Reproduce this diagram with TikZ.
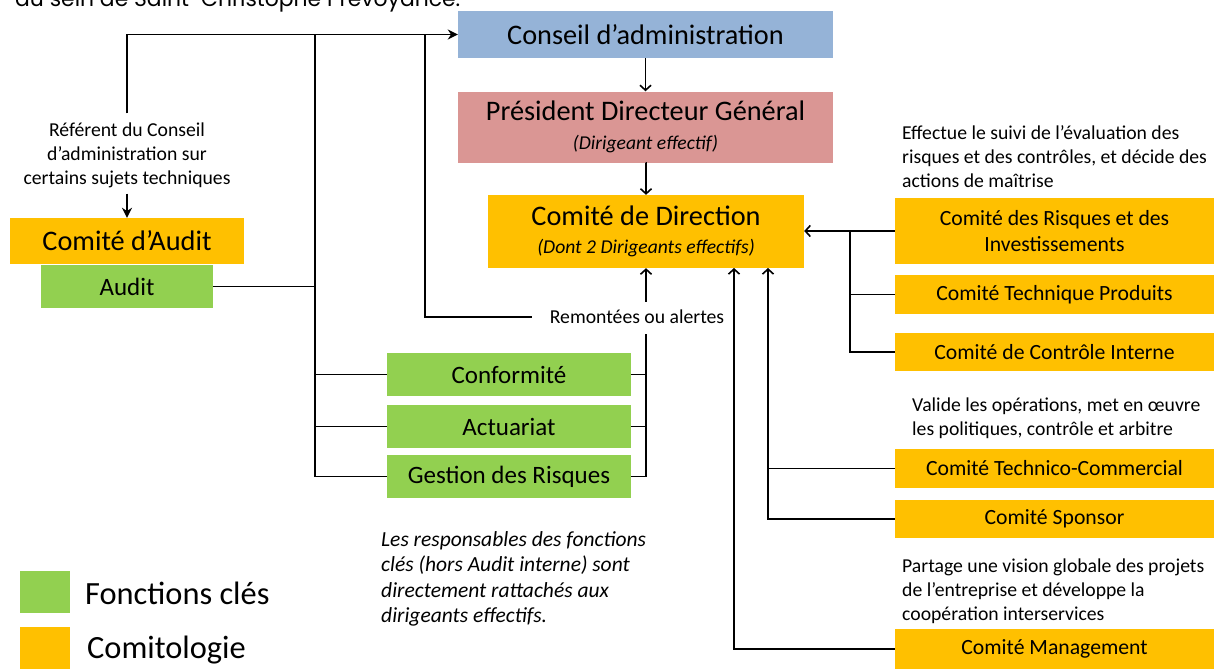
\documentclass[tikz,border=0pt]{standalone}
\usepackage{fontspec}
\setmainfont{Carlito}
\newfontfamily\gothic{Poppins}
\usetikzlibrary{arrows.meta}
\definecolor{cblue}{HTML}{95B3D7}
\definecolor{cpink}{HTML}{DA9694}
\definecolor{corange}{HTML}{FFC000}
\definecolor{cgreen}{HTML}{92D050}
\tikzset{
  box/.style={inner sep=0pt, align=center, text=black},
  orangebox/.style={box, fill=corange},
  greenbox/.style={box, fill=cgreen, font=\fontsize{25}{30}\selectfont},
  bigf/.style={font=\fontsize{28.3}{34}\selectfont},
  rightf/.style={font=\fontsize{21.7}{26}\selectfont},
  notef/.style={font=\fontsize{19.7}{24}\selectfont},
  conn/.style={line width=1.8pt, black},
  barb/.style={-{Straight Barb[length=5pt,width=11pt,line width=1.6pt]}},
  tri/.style={-{Stealth[length=10pt,width=10pt]}},
  note/.style={inner sep=0pt, align=left, anchor=west, notef},
}
\newcommand{\subit}{\fontsize{19.6}{24}\selectfont\itshape}
\begin{document}
\begin{tikzpicture}[x=1pt,y=-1pt]
\useasboundingbox (0,0) rectangle (1214,669);
\fill[white] (0,0) rectangle (1214,669);
\begin{scope}
\clip (0,0) rectangle (1214,669);
\node[inner sep=0pt, anchor=base west] (title) at (15,7) {\resizebox{445pt}{!}{\gothic au sein de Saint-Christophe Prévoyance.}};
\end{scope}

% main column
\node[box, bigf, fill=cblue, minimum width=375pt, minimum height=47pt] (cda) at (645.5,34.5) {Conseil d’administration};
\node[box, bigf, fill=cpink, minimum width=375pt, minimum height=71pt] (pdg) at (645.5,127) {Président Directeur Général\\[-5pt]{\subit (Dirigeant effectif)}};
\node[orangebox, bigf, minimum width=316pt, minimum height=73pt] (cdd) at (646,231.5) {Comité de Direction\\[-6pt]{\subit (Dont 2 Dirigeants effectifs)}};

% left
\node[orangebox, bigf, minimum width=234pt, minimum height=46pt] (caudit) at (127,241) {Comité d’Audit};
\node[greenbox, minimum width=172pt, minimum height=43pt] (audit) at (127,286.5) {Audit};
\node[inner sep=0pt, align=center, notef] (ref) at (127,155) {Référent du Conseil\\d’administration sur\\certains sujets techniques};

% key functions
\node[greenbox, minimum width=244pt, minimum height=43pt] (conf) at (509,374.5) {Conformité};
\node[greenbox, minimum width=244pt, minimum height=43pt] (act) at (509,426.5) {Actuariat};
\node[greenbox, minimum width=244pt, minimum height=43pt] (gdr) at (509,476.5) {Gestion des Risques};
\node[inner sep=0pt, notef] (rem) at (637,317) {Remontées ou alertes};

% right committees
\node[orangebox, rightf, minimum width=319pt, minimum height=66pt] (cri) at (1054.5,231) {Comité des Risques et des\\Investissements};
\node[orangebox, rightf, minimum width=319pt, minimum height=39pt] (ctp) at (1054.5,294.5) {Comité Technique Produits};
\node[orangebox, rightf, minimum width=319pt, minimum height=38pt] (cci) at (1054.5,352) {Comité de Contrôle Interne};
\node[orangebox, rightf, minimum width=319pt, minimum height=39pt] (ctc) at (1054.5,468.5) {Comité Technico-Commercial};
\node[orangebox, rightf, minimum width=319pt, minimum height=38pt] (cs) at (1054.5,519) {Comité Sponsor};
\node[orangebox, rightf, minimum width=319pt, minimum height=40pt] (cm) at (1054.5,649) {Comité Management};

% notes
\node[note] (n1) at (902,157) {Effectue le suivi de l’évaluation des\\risques et des contrôles, et décide des\\actions de maîtrise};
\node[note] (n2) at (912,418) {Valide les opérations, met en œuvre\\les politiques, contrôle et arbitre};
\node[note] (n3) at (902,591) {Partage une vision globale des projets\\de l’entreprise et développe la\\coopération interservices};
\node[note, font=\fontsize{21.5}{25.5}\selectfont\itshape] (n4) at (381,579) {Les responsables des fonctions\\clés (hors Audit interne) sont\\directement rattachés aux\\dirigeants effectifs.};

% legend
\node[greenbox, minimum width=50pt, minimum height=42pt] (lg) at (45,592) {};
\node[orangebox, minimum width=50pt, minimum height=42pt] (lo) at (45,648) {};
\node[inner sep=0pt, anchor=west, font=\fontsize{32.4}{38}\selectfont] (lgt) at (85,593) {Fonctions clés};
\node[inner sep=0pt, anchor=west, font=\fontsize{32.4}{38}\selectfont] (lot) at (87,650) {Comitologie};

% coordinates
\coordinate (v1) at (315,34.5);
\coordinate (v2) at (425,34.5);
\coordinate (v3) at (850,231);
\coordinate (c2) at (768,268);
\coordinate (c3) at (734,268);

% connectors
\draw[conn, tri] ([yshift=9pt]ref.north) |- (cda.west);
\draw[conn, tri] ([yshift=-6pt]ref.south) -- (caudit.north);
\draw[conn] (gdr.west) -| (v1);
\draw[conn] (conf.west) -- (conf.west -| v1);
\draw[conn] (act.west) -- (act.west -| v1);
\draw[conn] (audit.east) -- (audit.east -| v1);
\draw[conn] ([xshift=-18pt]rem.west) -| (v2);
\draw[conn, barb] (cda.south) -- (pdg.north);
\draw[conn, barb] (pdg.south) -- (cdd.south |- pdg.south) -- (cdd.north);
\draw[conn, barb] ([yshift=8pt]rem.north -| cdd.south) -- (cdd.south);
\draw[conn] ([yshift=-10pt]rem.south -| cdd.south) |- (gdr.east);
\draw[conn] (conf.east) -- (conf.east -| cdd.south);
\draw[conn] (act.east) -- (act.east -| cdd.south);
\draw[conn, barb] (cri.west) -- (cri.west -| cdd.east);
\draw[conn] (cci.west) -| (v3);
\draw[conn] (ctp.west) -- (ctp.west -| v3);
\draw[conn, barb] (cs.west) -| (c2);
\draw[conn] (ctc.west) -- (ctc.west -| c2);
\draw[conn, barb] (cm.west) -| (c3);
\end{tikzpicture}
\end{document}
